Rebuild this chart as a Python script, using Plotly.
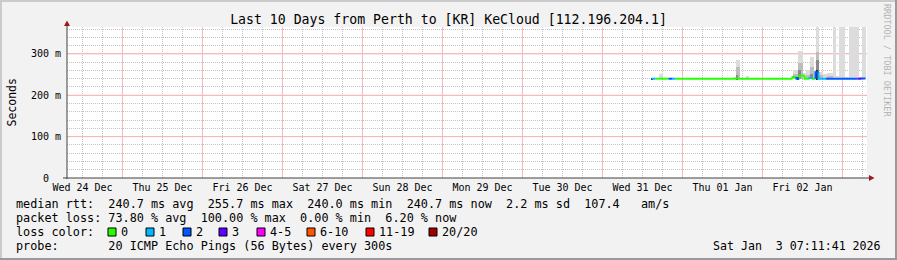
import plotly.graph_objects as go
import pandas as pd

# ---------------- data ----------------
TITLE = "Last 10 Days from Perth to [KR] KeCloud [112.196.204.1]"
X_START = "2025-12-24 07:21:00"
X_END = "2026-01-03 07:21:00"
Y_MAX = 365

day_tick_times = ["2025-12-24 12:00", "2025-12-25 12:00", "2025-12-26 12:00", "2025-12-27 12:00",
                  "2025-12-28 12:00", "2025-12-29 12:00", "2025-12-30 12:00", "2025-12-31 12:00",
                  "2026-01-01 12:00", "2026-01-02 12:00"]
day_tick_labels = ["Wed 24 Dec", "Thu 25 Dec", "Fri 26 Dec", "Sat 27 Dec", "Sun 28 Dec",
                   "Mon 29 Dec", "Tue 30 Dec", "Wed 31 Dec", "Thu 01 Jan", "Fri 02 Jan"]
midnight_times = ["2025-12-25", "2025-12-26", "2025-12-27", "2025-12-28", "2025-12-29",
                  "2025-12-30", "2025-12-31", "2026-01-01", "2026-01-02", "2026-01-03"]
y_tick_values = [0, 100, 200, 300]
y_tick_labels = ["0  ", "100 m", "200 m", "300 m"]

loss_labels = ["0", "1", "2", "3", "4-5", "6-10", "11-19", "20/20"]
loss_colors = ["#26ff00", "#00b8ff", "#0059ff", "#5e00ff", "#ff00ff", "#ff5500", "#ff0000", "#a00000"]

# median rtt (ms) segments, coloured by loss category index
med_start = ["2025-12-31 14:42", "2025-12-31 15:54", "2025-12-31 19:48", "2025-12-31 21:00",
             "2025-12-31 21:54", "2026-01-02 09:00", "2026-01-02 10:12", "2026-01-02 10:48",
             "2026-01-02 11:06", "2026-01-02 12:36", "2026-01-02 14:06", "2026-01-02 15:00",
             "2026-01-02 15:54", "2026-01-02 16:48", "2026-01-02 18:54", "2026-01-03 04:30",
             "2026-01-03 05:42"]
med_end = ["2025-12-31 15:54", "2025-12-31 19:48", "2025-12-31 21:00", "2025-12-31 21:54",
           "2026-01-02 09:00", "2026-01-02 10:12", "2026-01-02 10:48", "2026-01-02 11:06",
           "2026-01-02 12:36", "2026-01-02 14:06", "2026-01-02 15:00", "2026-01-02 15:54",
           "2026-01-02 16:48", "2026-01-02 18:54", "2026-01-03 04:30", "2026-01-03 05:42",
           "2026-01-03 06:54"]
med_value = [240.0, 240.0, 240.0, 240.0, 240.0, 244.0, 240.0, 240.0,
             248.0, 240.0, 242.0, 240.0, 255.7, 240.0, 240.0, 240.0, 240.7]
med_loss = [1, 0, 2, 1, 0, 0, 2, 1, 0, 0, 1, 0, 2, 1, 2, 3, 2]

# smoke (ping spread) bands: start, end, low ms, high ms, shade level (0 light .. 3 black)
smoke_start = ["2025-12-31 16:48", "2026-01-01 15:00", "2026-01-01 15:54", "2026-01-01 18:54",
               "2026-01-02 09:00", "2026-01-02 10:30", "2026-01-02 12:00", "2026-01-02 12:54",
               "2026-01-02 14:06", "2026-01-02 15:18", "2026-01-02 15:54", "2026-01-02 16:48",
               "2026-01-02 18:00", "2026-01-02 19:12", "2026-01-02 21:00", "2026-01-02 21:54",
               "2026-01-02 22:48", "2026-01-03 00:36", "2026-01-03 01:48", "2026-01-03 04:48",
               "2026-01-03 05:42",
               "2026-01-01 15:54", "2026-01-02 09:00", "2026-01-02 10:30", "2026-01-02 12:54",
               "2026-01-02 14:06", "2026-01-02 15:54", "2026-01-02 16:48", "2026-01-02 19:12",
               "2026-01-01 15:54", "2026-01-02 10:30", "2026-01-02 14:06", "2026-01-02 15:54",
               "2025-12-31 14:40", "2026-01-01 15:54", "2026-01-02 10:12", "2026-01-02 15:54"]
smoke_end = ["2025-12-31 18:00", "2026-01-01 15:54", "2026-01-01 17:06", "2026-01-01 19:48",
             "2026-01-02 10:30", "2026-01-02 12:00", "2026-01-02 12:54", "2026-01-02 14:06",
             "2026-01-02 15:18", "2026-01-02 15:54", "2026-01-02 16:48", "2026-01-02 18:00",
             "2026-01-02 19:12", "2026-01-02 21:00", "2026-01-02 21:54", "2026-01-02 22:48",
             "2026-01-03 00:36", "2026-01-03 01:48", "2026-01-03 04:48", "2026-01-03 05:42",
             "2026-01-03 06:54",
             "2026-01-01 17:06", "2026-01-02 10:30", "2026-01-02 12:00", "2026-01-02 14:06",
             "2026-01-02 15:18", "2026-01-02 16:48", "2026-01-02 18:00", "2026-01-02 21:00",
             "2026-01-01 16:30", "2026-01-02 11:30", "2026-01-02 15:00", "2026-01-02 16:48",
             "2025-12-31 15:00", "2026-01-01 16:30", "2026-01-02 10:48", "2026-01-02 16:30"]
smoke_low = [240, 240, 240, 240, 240, 240, 240, 240, 240, 240, 240, 240, 240, 240, 240, 240,
             240, 240, 240, 240, 240,
             240, 240, 240, 240, 240, 240, 240, 240,
             240, 240, 240, 240,
             236, 236, 236, 236]
smoke_high = [252, 245, 285, 247, 261, 307, 255, 261, 293, 258, 370, 257, 252, 254, 370, 246,
              370, 245, 370, 244, 370,
              269, 252, 278, 250, 269, 305, 248, 247,
              250, 260, 252, 285,
              241, 242, 244, 262]
smoke_level = [0] * 21 + [1] * 8 + [2] * 4 + [3] * 4
smoke_shades = ["#dcdcdc", "#bdbdbd", "#8a8a8a", "#262626"]

legend_rtt = "median rtt:  240.7 ms avg  255.7 ms max  240.0 ms min  240.7 ms now  2.2 ms sd  107.4   am/s"
legend_loss = "packet loss: 73.80 % avg  100.00 % max  0.00 % min  6.20 % now"
legend_probe = "probe:       20 ICMP Echo Pings (56 Bytes) every 300s"
legend_stamp = "Sat Jan  3 07:11:41 2026"

# ---------------- styling ----------------
W, H = 897, 260
PL, PR, PT, PB = 67, 867, 27, 178      # plot area in pixels
MONO = "DejaVu Sans Mono"
BG = "#f2f2f2"
GRID = "#c4c4c4"
MGRID = "#f7b9b9"
ARROW = "#a01818"
AXIS = "#404040"
LEG_SIZE = 11.8


def px(x):
    return (x - PL) / (PR - PL)


def py(y):
    return (PB - y) / (PB - PT)


fig = go.Figure()

# smoke
for lvl, shade in enumerate(smoke_shades):
    xs, bases, hs, ws = [], [], [], []
    for s, e, lo, hi, l in zip(smoke_start, smoke_end, smoke_low, smoke_high, smoke_level):
        if l != lvl:
            continue
        ts, te = pd.Timestamp(s), pd.Timestamp(e)
        xs.append((ts + (te - ts) / 2).to_pydatetime())
        bases.append(lo)
        hs.append(hi - lo)
        ws.append((te - ts).total_seconds() * 1000)
    fig.add_trace(go.Bar(x=xs, y=hs, base=bases, width=ws, marker=dict(color=shade, line=dict(width=0)),
                         showlegend=False, hoverinfo="skip"))

# median line, one trace per loss colour
for ci, col in enumerate(loss_colors):
    xs, ys = [], []
    prev_end, prev_val = None, None
    for s, e, v, c in zip(med_start, med_end, med_value, med_loss):
        ts, te = pd.Timestamp(s), pd.Timestamp(e)
        if c == ci:
            if prev_end is not None and prev_end == ts and prev_val != v:
                xs.append(ts.to_pydatetime()); ys.append(prev_val)
            xs += [ts.to_pydatetime(), te.to_pydatetime(), None]
            ys += [v, v, None]
        prev_end, prev_val = te, v
    if xs:
        fig.add_trace(go.Scatter(x=xs, y=ys, mode="lines", line=dict(color=col, width=2),
                                 showlegend=False, hoverinfo="skip"))

shapes = []
# red midnight (major) grid lines
for m in midnight_times:
    shapes.append(dict(type="line", xref="x", yref="y", x0=m, x1=m, y0=0, y1=Y_MAX,
                       line=dict(color=MGRID, width=1), layer="between"))
# red major horizontal grid lines
for v in y_tick_values[1:]:
    shapes.append(dict(type="line", xref="x", yref="y", x0=X_START, x1=X_END, y0=v, y1=v,
                       line=dict(color=MGRID, width=1), layer="between"))

# axis lines and arrows
shapes.append(dict(type="line", xref="paper", yref="paper", x0=px(PL), x1=px(PL), y0=py(PB + 1), y1=py(25),
                   line=dict(color=AXIS, width=1)))
shapes.append(dict(type="line", xref="paper", yref="paper", x0=px(63), x1=px(870), y0=0, y1=0,
                   line=dict(color=AXIS, width=1)))
shapes.append(dict(type="path", xref="paper", yref="paper",
                   path=f"M {px(64)} {py(26)} L {px(70)} {py(26)} L {px(67)} {py(20.5)} Z",
                   fillcolor=ARROW, line=dict(width=0)))
shapes.append(dict(type="path", xref="paper", yref="paper",
                   path=f"M {px(869)} {py(175)} L {px(869)} {py(181)} L {px(874.5)} {py(178)} Z",
                   fillcolor=ARROW, line=dict(width=0)))

# 3D frame
shapes.append(dict(type="rect", xref="paper", yref="paper", x0=px(0), x1=px(W), y0=py(0), y1=py(2),
                   fillcolor="#cbcbcb", line=dict(width=0), layer="below"))
shapes.append(dict(type="rect", xref="paper", yref="paper", x0=px(0), x1=px(2), y0=py(0), y1=py(H),
                   fillcolor="#cbcbcb", line=dict(width=0), layer="below"))
shapes.append(dict(type="rect", xref="paper", yref="paper", x0=px(0), x1=px(W), y0=py(H - 2), y1=py(H),
                   fillcolor="#999999", line=dict(width=0), layer="below"))
shapes.append(dict(type="rect", xref="paper", yref="paper", x0=px(W - 2), x1=px(W), y0=py(0), y1=py(H),
                   fillcolor="#999999", line=dict(width=0), layer="below"))

# loss colour legend boxes
box_x = [108, 146, 183, 219, 257, 307, 366, 429]
for bx, col in zip(box_x, loss_colors):
    shapes.append(dict(type="rect", xref="paper", yref="paper", xsizemode="pixel", ysizemode="pixel",
                       xanchor=0, yanchor=0, x0=bx - PL, x1=bx + 8 - PL, y0=PB - 236, y1=PB - 228,
                       fillcolor=col, line=dict(color="#000000", width=1)))


def txt(text, x_px, y_px, anchor="left", size=LEG_SIZE, color="#000000", angle=0, yanchor="middle"):
    return dict(text=text.replace(" ", "\u00a0"), xref="paper", yref="paper", x=0, y=0,
                xshift=x_px - PL, yshift=PB - y_px, xanchor=anchor, yanchor=yanchor,
                showarrow=False, borderpad=0, borderwidth=0, textangle=angle,
                font=dict(family=MONO, size=size, color=color))


annotations = [
    txt(legend_rtt, 16, 204),
    txt(legend_loss, 16, 218),
    txt("loss color:", 16, 232),
    txt(legend_probe, 16, 246),
    txt(legend_stamp, 881, 246, anchor="right", size=11.6),
    txt("Seconds", 11, (PT + PB) / 2, anchor="center", angle=-90, size=11.5),
    txt("RRDTOOL / TOBI OETIKER", 887, 60, anchor="center", angle=90, size=8.5, color="#b4b4b4"),
]
for bx, lab in zip(box_x, loss_labels):
    annotations.append(txt(lab, bx + 13, 232))

minor_x = [d.to_pydatetime() for d in pd.date_range("2025-12-24 06:00", "2026-01-03 06:00", freq="12h")]
minor_y = [v for v in range(20, 361, 20) if v % 100 != 0]

fig.update_layout(
    width=W, height=H,
    margin=dict(l=PL, r=W - PR, t=PT, b=H - PB, pad=0),
    paper_bgcolor=BG, plot_bgcolor="#ffffff",
    barmode="overlay", bargap=0,
    showlegend=False,
    title=dict(text=TITLE, x=0.5, xanchor="center", y=1 - 19 / H, yanchor="middle",
               font=dict(family=MONO, size=13.2, color="#000000")),
    xaxis=dict(type="date", range=[X_START, X_END], tickmode="array", tickvals=day_tick_times,
               ticktext=day_tick_labels, ticks="", ticklabelstandoff=2, showline=False, zeroline=False,
               showgrid=True, gridcolor=GRID, griddash="1px,1px", gridwidth=1,
               tickfont=dict(family=MONO, size=10, color="#000000"),
               minor=dict(tickmode="array", tickvals=minor_x, showgrid=True, gridcolor=GRID,
                          griddash="1px,1px", gridwidth=1, ticks=""),
               fixedrange=True),
    yaxis=dict(range=[0, Y_MAX], tickmode="array", tickvals=y_tick_values,
               ticktext=[t.replace(" ", "\u00a0") for t in y_tick_labels], ticks="", ticklabelstandoff=5,
               showline=False, zeroline=False, showgrid=True, gridcolor=MGRID, griddash="solid",
               gridwidth=1, tickfont=dict(family=MONO, size=10, color="#000000"),
               minor=dict(tickmode="array", tickvals=minor_y, showgrid=True, gridcolor=GRID,
                          griddash="1px,1px", gridwidth=1, ticks=""),
               fixedrange=True),
    shapes=shapes,
    annotations=annotations,
)

fig.write_html("out.html")
